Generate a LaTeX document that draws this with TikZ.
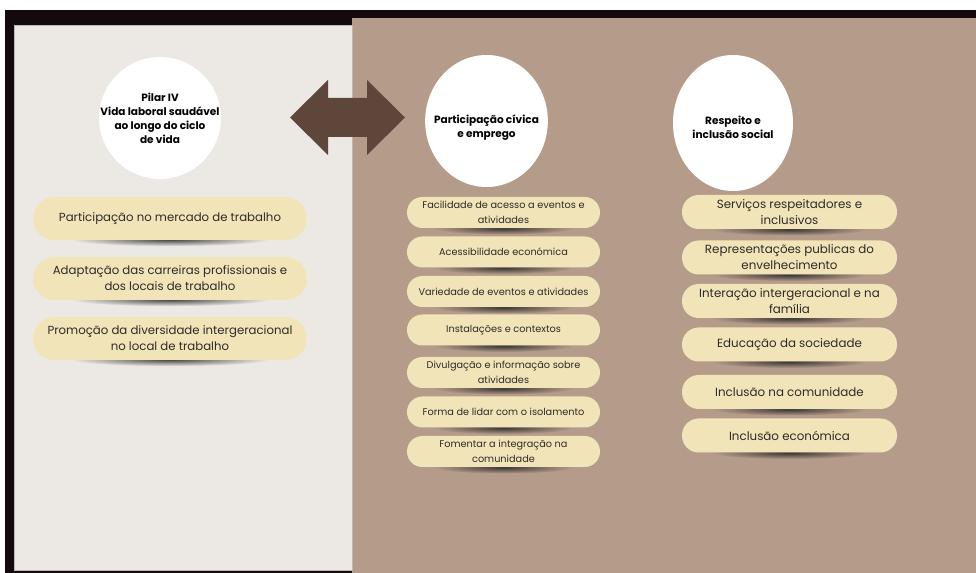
\documentclass[tikz,border=0pt]{standalone}
\usepackage{fontspec}
\setmainfont{Poppins}
\usetikzlibrary{fadings}
\definecolor{frameblack}{HTML}{140A0E}
\definecolor{panelgray}{HTML}{ECE9E4}
\definecolor{panelbrown}{HTML}{B59C8A}
\definecolor{arrowbrown}{HTML}{5E463B}
\definecolor{pillcream}{HTML}{F2E4B9}
\definecolor{textdark}{HTML}{2F2B28}
\tikzfading[name=pillfade, inner color=transparent!0, outer color=transparent!100]

\begin{document}
\begin{tikzpicture}[x=0.75pt,y=-0.75pt,
	every node/.style={text=textdark},
	topic/.style={inner sep=0pt,align=center,text=black,
		font=\bfseries\fontsize{7.9}{10.5}\selectfont},
	disc/.style={fill=white},
	pill/.style={rectangle,fill=pillcream,inner sep=1pt,align=center},
	leftpill/.style={pill,minimum width=205.5pt,minimum height=32.25pt,rounded corners=16pt,
		font=\fontsize{8.8}{12}\selectfont},
	midpill/.style={pill,minimum width=144.75pt,minimum height=23.25pt,rounded corners=11.5pt,
		font=\fontsize{7.3}{11}\selectfont},
	rightpill/.style={pill,minimum width=161.25pt,minimum height=25.5pt,rounded corners=12.5pt,
		font=\fontsize{8.9}{12}\selectfont},
	pillshadow/.style={fill=black!85,opacity=.85,path fading=pillfade}]
	\useasboundingbox (0,0) rectangle (976,573);
	% frame and the two panels
	\fill[frameblack] (5,10) rectangle (976,573);
	\fill[panelbrown] (352,18) rectangle (976,573);
	\filldraw[fill=panelgray,draw=gray!55,line width=0.6pt] (14,25) rectangle (352,570);
	% double arrow between the panels
	\fill[arrowbrown] (290,117.5) -- (328,80) -- (328,98) -- (367,98) -- (367,80) -- (405,117.5)
		-- (367,155) -- (367,137) -- (328,137) -- (328,155) -- cycle;
	% topics
	\fill[disc] (160,118) ellipse (45.75pt and 45.75pt);
	\fill[disc] (486.5,121) ellipse (46pt and 49.5pt);
	\fill[disc] (733,123) ellipse (45pt and 51pt);
	\node[topic] (pilar) at (160,118)
		{Pilar IV\\Vida laboral saudável\\ao longo do ciclo\\de vida};
	\node[topic] (civica) at (486.5,127.5) {Participação cívica\\e emprego};
	\node[topic] (respeito) at (733,127.5) {Respeito e\\inclusão social};
	% left column
	\foreach \y/\txt [count=\i] in {218.5/Participação no mercado de trabalho,
		278.5/{Adaptação das carreiras profissionais e\\dos locais de trabalho},
		338.5/{Promoção da diversidade intergeracional\\no local de trabalho}}
	{
		\fill[pillshadow] (170,\y+21) ellipse (74pt and 5pt);
		\node[leftpill] (work-\i) at (170,\y) {\txt};
	}
	% middle column
	\foreach \y/\txt [count=\i] in {212.5/{Facilidade de acesso a eventos e\\atividades},
		252/Acessibilidade económica,
		291.5/Variedade de eventos e atividades,
		330/Instalações e contextos,
		372.5/{Divulgação e informação sobre\\atividades},
		412/Forma de lidar com o isolamento,
		451.5/{Fomentar a integração na\\comunidade}}
	{
		\fill[pillshadow] (503.5,\y+16) ellipse (52pt and 4.5pt);
		\node[midpill] (civ-\i) at (503.5,\y) {\txt};
	}
	% right column
	\foreach \y/\txt [count=\i] in {212/{Serviços respeitadores e\\inclusivos},
		257.5/{Representações publicas do\\envelhecimento},
		301/{Interação intergeracional e na\\família},
		344.5/Educação da sociedade,
		392/Inclusão na comunidade,
		435.5/Inclusão económica}
	{
		\fill[pillshadow] (789.5,\y+17.5) ellipse (58pt and 4.5pt);
		\node[rightpill] (resp-\i) at (789.5,\y) {\txt};
	}
\end{tikzpicture}
\end{document}
